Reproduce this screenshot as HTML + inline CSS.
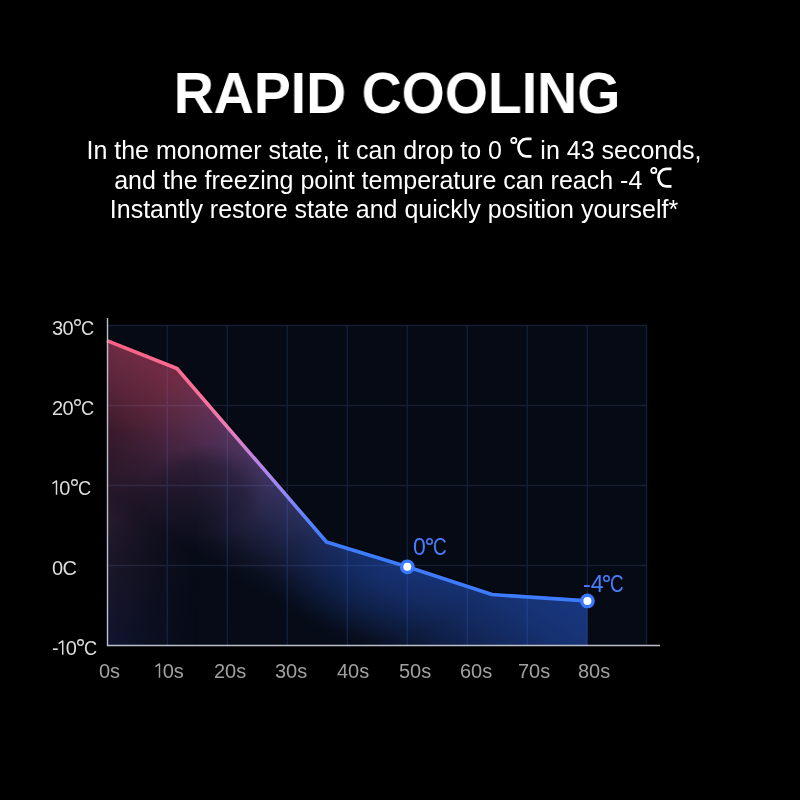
<!DOCTYPE html>
<html><head><meta charset="utf-8">
<style>
html,body{margin:0;padding:0;background:#000;}
body{width:800px;height:800px;overflow:hidden;position:relative;font-family:"Liberation Sans",sans-serif;}
.t{position:absolute;white-space:nowrap;line-height:1;will-change:transform;}
#title{left:0;width:794px;text-align:center;top:64px;font-weight:bold;font-size:58px;color:#fff;transform:scaleX(0.956);transform-origin:397px 0;}
.sub{left:0;width:788px;text-align:center;font-size:25px;color:#fff;}
.dc{display:inline-block;width:24.5px;height:22px;vertical-align:baseline;overflow:visible;}
.yl{font-size:20px;color:#dcdcdc;left:51.5px;letter-spacing:-0.5px;}
.dg{display:inline-block;width:7px;height:7px;vertical-align:9.2px;margin-left:1px;overflow:visible;}
.yc{display:inline-block;transform:scaleX(0.91);transform-origin:0 0;}
.xl{font-size:20px;color:#a0a0a0;}
.dl{font-size:23px;color:#4a7eff;}
.dl .dg{vertical-align:9.8px;margin-left:0;}
.dc2{display:inline-block;transform:scaleX(0.82);transform-origin:0 0;}
.one{display:inline-block;vertical-align:baseline;overflow:visible;}
svg.ch{position:absolute;left:0;top:0;}
</style></head><body>
<svg class="ch" width="800" height="800" viewBox="0 0 800 800">
<defs>
<linearGradient id="lg" x1="135" y1="317.9" x2="324.1" y2="545.7" gradientUnits="userSpaceOnUse">
<stop offset="0" stop-color="#ff6086"/>
<stop offset="0.317" stop-color="#fa6e98"/>
<stop offset="0.473" stop-color="#f07ab4"/>
<stop offset="0.616" stop-color="#c282e2"/>
<stop offset="0.758" stop-color="#9a88f8"/>
<stop offset="0.922" stop-color="#5282ff"/>
<stop offset="1" stop-color="#3d7bff"/>
</linearGradient>
<linearGradient id="fc" x1="276.5" y1="276.5" x2="457.5" y2="457.5" gradientUnits="userSpaceOnUse">
<stop offset="0" stop-color="#ff5a84"/>
<stop offset="0.25" stop-color="#dc6ebe"/>
<stop offset="0.5" stop-color="#aa7de6"/>
<stop offset="0.75" stop-color="#7382ff"/>
<stop offset="1" stop-color="#306eff"/>
</linearGradient>
<linearGradient id="fa" x1="244.1" y1="586.6" x2="332.4" y2="447.2" gradientUnits="userSpaceOnUse">
<stop offset="0" stop-color="#fff" stop-opacity="0.015"/>
<stop offset="0.06" stop-color="#fff" stop-opacity="0.03"/>
<stop offset="0.15" stop-color="#fff" stop-opacity="0.075"/>
<stop offset="0.24" stop-color="#fff" stop-opacity="0.135"/>
<stop offset="0.36" stop-color="#fff" stop-opacity="0.21"/>
<stop offset="0.485" stop-color="#fff" stop-opacity="0.28"/>
<stop offset="0.606" stop-color="#fff" stop-opacity="0.34"/>
<stop offset="0.818" stop-color="#fff" stop-opacity="0.42"/>
<stop offset="1" stop-color="#fff" stop-opacity="0.45"/>
</linearGradient>
<radialGradient id="dip" cx="0.5" cy="0.5" r="0.5">
<stop offset="0" stop-color="#000" stop-opacity="0.32"/>
<stop offset="0.6" stop-color="#000" stop-opacity="0.25"/>
<stop offset="1" stop-color="#000" stop-opacity="0"/>
</radialGradient>
<mask id="fm" maskUnits="userSpaceOnUse" x="0" y="0" width="800" height="800">
<rect x="0" y="0" width="800" height="800" fill="url(#fa)"/>
<ellipse cx="205" cy="490" rx="60" ry="45" fill="url(#dip)"/>
</mask>
<linearGradient id="gh" x1="107" y1="0" x2="200" y2="0" gradientUnits="userSpaceOnUse">
<stop offset="0" stop-color="#fff" stop-opacity="1"/>
<stop offset="0.247" stop-color="#fff" stop-opacity="0.7"/>
<stop offset="0.462" stop-color="#fff" stop-opacity="0.43"/>
<stop offset="0.73" stop-color="#fff" stop-opacity="0.2"/>
<stop offset="1" stop-color="#fff" stop-opacity="0"/>
</linearGradient>
<mask id="gm" maskUnits="userSpaceOnUse" x="0" y="0" width="800" height="800">
<rect x="107" y="300" width="100" height="400" fill="url(#gh)"/>
</mask>
<linearGradient id="gv" x1="0" y1="430" x2="0" y2="645" gradientUnits="userSpaceOnUse">
<stop offset="0" stop-color="#ce649c" stop-opacity="0"/>
<stop offset="0.209" stop-color="#ce649c" stop-opacity="0.12"/>
<stop offset="0.42" stop-color="#c068a8" stop-opacity="0.17"/>
<stop offset="0.595" stop-color="#aa6eb4" stop-opacity="0.125"/>
<stop offset="0.93" stop-color="#645fd2" stop-opacity="0.12"/>
<stop offset="1" stop-color="#5a5fdc" stop-opacity="0.14"/>
</linearGradient>
<radialGradient id="mg" cx="0.5" cy="0.5" r="0.5">
<stop offset="0" stop-color="#2e6cff" stop-opacity="0.13"/>
<stop offset="0.5" stop-color="#2e6cff" stop-opacity="0.075"/>
<stop offset="1" stop-color="#2e6cff" stop-opacity="0"/>
</radialGradient>
<clipPath id="fp"><polygon points="107,340.7 177,368.5 326.5,542 407.3,566.8 492,594.5 587.4,600.9 587.4,645.5 107,645.5"/></clipPath>
<clipPath id="ab"><polygon points="100,300 700,300 700,600.9 587.4,600.9 492,594.5 407.3,566.8 326.5,542 177,368.5 107,340.7 100,340.7"/></clipPath>
</defs>
<rect x="107" y="325" width="540" height="320" fill="#060a14"/>
<g stroke="#161e30" stroke-width="1.3">
<line x1="107" y1="325.5" x2="647" y2="325.5"/>
<line x1="107" y1="405.5" x2="647" y2="405.5"/>
<line x1="107" y1="485.5" x2="647" y2="485.5"/>
<line x1="107" y1="565.5" x2="647" y2="565.5"/>
</g>
<g stroke="#11213c" stroke-width="1.3">
<line x1="167.3" y1="325" x2="167.3" y2="645"/>
<line x1="227.3" y1="325" x2="227.3" y2="645"/>
<line x1="287.3" y1="325" x2="287.3" y2="645"/>
<line x1="347.3" y1="325" x2="347.3" y2="645"/>
<line x1="407.3" y1="325" x2="407.3" y2="645"/>
<line x1="467.3" y1="325" x2="467.3" y2="645"/>
<line x1="527.3" y1="325" x2="527.3" y2="645"/>
<line x1="587.3" y1="325" x2="587.3" y2="645"/>
<line x1="646.5" y1="325" x2="646.5" y2="645"/>
</g>
<polygon points="107,340.7 177,368.5 326.5,542 407.3,566.8 492,594.5 587.4,600.9 587.4,645.5 107,645.5" fill="url(#fc)" mask="url(#fm)"/>
<rect x="107" y="430" width="93" height="215.5" fill="url(#gv)" mask="url(#gm)"/>
<ellipse cx="378" cy="578" rx="100" ry="60" fill="url(#mg)" clip-path="url(#fp)"/>
<polyline points="107,340.7 177,368.5 326.5,542 407.3,566.8 492,594.5 587.4,600.9" fill="none" stroke="#000" stroke-opacity="0.6" stroke-width="6" stroke-linejoin="round" clip-path="url(#ab)"/>
<polyline points="107,340.7 177,368.5 326.5,542 407.3,566.8 492,594.5 587.4,600.9" fill="none" stroke="url(#lg)" stroke-width="3.6" stroke-linejoin="round"/>
<line x1="107.5" y1="318" x2="107.5" y2="646" stroke="#bcbecb" stroke-width="1.4"/>
<line x1="107" y1="645.5" x2="660" y2="645.5" stroke="#bcbecb" stroke-width="1.4"/>
<circle cx="407.3" cy="566.8" r="5.7" fill="#fff" stroke="#3a78ff" stroke-width="3.4"/>
<circle cx="587.4" cy="600.9" r="5.7" fill="#fff" stroke="#3a78ff" stroke-width="3.4"/>
</svg>
<div class="t" id="title">RAPID COOLING</div>
<div class="t sub" style="top:137px">In the monomer state, it can drop to 0 <svg class="dc" viewBox="0 0 24.5 22"><circle cx="4.8" cy="3.4" r="2.6" fill="none" stroke="#fff" stroke-width="1.8"/><path d="M22.5 1.8H17.3A7.8 8.8 0 0 0 17.3 19.4H22.5" fill="none" stroke="#fff" stroke-width="2.8"/></svg> in 43 seconds,</div>
<div class="t sub" style="top:167px">and the freezing point temperature can reach -4 <svg class="dc" viewBox="0 0 24.5 22"><circle cx="4.8" cy="3.4" r="2.6" fill="none" stroke="#fff" stroke-width="1.8"/><path d="M22.5 1.8H17.3A7.8 8.8 0 0 0 17.3 19.4H22.5" fill="none" stroke="#fff" stroke-width="2.8"/></svg></div>
<div class="t sub" style="top:197px">Instantly restore state and quickly position yourself*</div>
<div class="t yl" style="top:318px">30<svg class="dg" viewBox="0 0 7 7"><circle cx="3.5" cy="3.5" r="2.8" fill="none" stroke="currentColor" stroke-width="1.35"/></svg><span class="yc">C</span></div>
<div class="t yl" style="top:398px">20<svg class="dg" viewBox="0 0 7 7"><circle cx="3.5" cy="3.5" r="2.8" fill="none" stroke="currentColor" stroke-width="1.35"/></svg><span class="yc">C</span></div>
<div class="t yl" style="top:478px"><svg class="one" width="7.25" height="15" viewBox="0 0 7.25 15"><path d="M4.5 14.7V0.9L0.40 3.6" fill="none" stroke="currentColor" stroke-width="1.45" stroke-linejoin="round"/></svg>0<svg class="dg" viewBox="0 0 7 7"><circle cx="3.5" cy="3.5" r="2.8" fill="none" stroke="currentColor" stroke-width="1.35"/></svg><span class="yc">C</span></div>
<div class="t yl" style="top:558px">0C</div>
<div class="t yl" style="top:638px">-<svg class="one" width="7.6" height="15" viewBox="0 0 7.6 15"><path d="M4.74 14.7V0.9L0.64 3.6" fill="none" stroke="currentColor" stroke-width="1.45" stroke-linejoin="round"/></svg>0<svg class="dg" viewBox="0 0 7 7"><circle cx="3.5" cy="3.5" r="2.8" fill="none" stroke="currentColor" stroke-width="1.35"/></svg><span class="yc">C</span></div>
<div class="t xl" style="top:661px;left:99px">0s</div>
<div class="t xl" style="top:661px;left:155px"><svg class="one" width="7.65" height="15" viewBox="0 0 7.65 15"><path d="M4.5 14.7V0.9L0.40 3.6" fill="none" stroke="currentColor" stroke-width="1.45" stroke-linejoin="round"/></svg>0s</div>
<div class="t xl" style="top:661px;left:214px">20s</div>
<div class="t xl" style="top:661px;left:275px">30s</div>
<div class="t xl" style="top:661px;left:337px">40s</div>
<div class="t xl" style="top:661px;left:399px">50s</div>
<div class="t xl" style="top:661px;left:460px">60s</div>
<div class="t xl" style="top:661px;left:518px">70s</div>
<div class="t xl" style="top:661px;left:578px">80s</div>
<div class="t dl" style="top:536px;left:413px">0<svg class="dg" viewBox="0 0 7 7"><circle cx="3.5" cy="3.5" r="2.75" fill="none" stroke="currentColor" stroke-width="1.5"/></svg><span class="dc2">C</span></div>
<div class="t dl" style="top:573px;left:583px">-4<svg class="dg" viewBox="0 0 7 7"><circle cx="3.5" cy="3.5" r="2.75" fill="none" stroke="currentColor" stroke-width="1.5"/></svg><span class="dc2">C</span></div>
</body></html>
